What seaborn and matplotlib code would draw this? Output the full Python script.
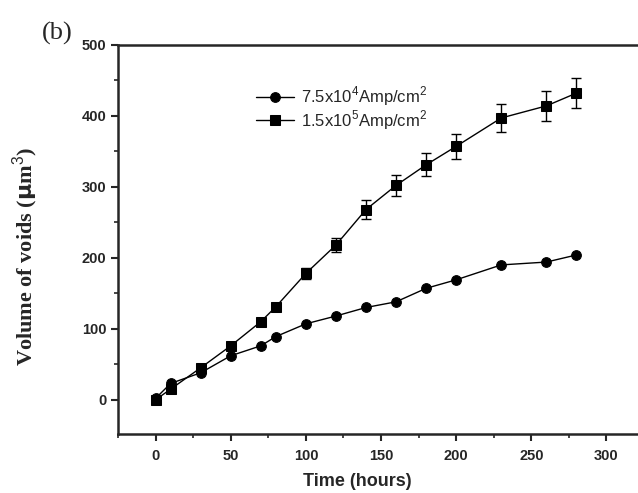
import numpy as np
import pandas as pd
import seaborn as sns
import matplotlib.pyplot as plt
from matplotlib.ticker import AutoMinorLocator, MultipleLocator

# data
time_low = [0, 10, 30, 50, 70, 80, 100, 120, 140, 160, 180, 200, 230, 260, 280]
vol_low = [2, 23, 38, 62, 76, 89, 107, 118, 130, 138, 157, 169, 190, 194, 204]

time_high = [0, 10, 30, 50, 70, 80, 100, 120, 140, 160, 180, 200, 230, 260, 280]
vol_high = [0, 15, 45, 76, 110, 131, 178, 218, 268, 302, 331, 357, 397, 414, 432]
err_high = [2, 2, 3, 4, 4, 5, 8, 10, 13, 15, 16, 18, 20, 21, 21]

label_low = r'7.5x10$^4$Amp/cm$^2$'
label_high = r'1.5x10$^5$Amp/cm$^2$'

df = pd.concat([
    pd.DataFrame({'time': time_low, 'vol': vol_low, 'series': label_low}),
    pd.DataFrame({'time': time_high, 'vol': vol_high, 'series': label_high}),
])

sns.set_style("ticks")
plt.rcParams['font.family'] = ['Liberation Sans', 'DejaVu Sans']
plt.rcParams['mathtext.fontset'] = 'custom'
plt.rcParams['mathtext.rm'] = 'Liberation Sans'

fig = plt.figure(figsize=(6.38, 4.93), dpi=100)
ax = fig.add_axes([0.185, 0.12, 0.815, 0.789])

sns.lineplot(data=df, x='time', y='vol', hue='series', style='series',
             markers={label_low: 'o', label_high: 's'}, dashes=False,
             palette={label_low: 'black', label_high: 'black'},
             markersize=7, linewidth=1, markeredgecolor='black', ax=ax)
ax.errorbar(time_high, vol_high, yerr=err_high, fmt='none', ecolor='black',
            elinewidth=1, capsize=3.5, capthick=1)

ax.set_xlim(-25, 321)
ax.set_ylim(-48, 500)
ax.xaxis.set_major_locator(MultipleLocator(50))
ax.yaxis.set_major_locator(MultipleLocator(100))
ax.xaxis.set_minor_locator(AutoMinorLocator(2))
ax.yaxis.set_minor_locator(AutoMinorLocator(2))
ax.tick_params(which='major', direction='out', length=5, width=1.5, labelsize=10.5)
ax.tick_params(axis='x', which='major', pad=6)
ax.tick_params(which='minor', direction='out', length=3, width=1.2)
for lbl in ax.get_xticklabels() + ax.get_yticklabels():
    lbl.set_fontweight('bold')

for side in ['left', 'bottom', 'top']:
    ax.spines[side].set_linewidth(1.8)
ax.spines['right'].set_visible(False)

ax.set_xlabel('Time (hours)', fontsize=13, fontweight='bold')
ax.xaxis.set_label_coords(0.46, -0.1)
ax.set_ylabel(r'Volume of voids ($\mathbf{\mu}$m$^3$)', fontsize=16,
              fontweight='bold', family='Liberation Serif')
ax.yaxis.set_label_coords(-0.15, 0.455)

leg = ax.legend(loc='center left', bbox_to_anchor=(0.2365, 0.837), frameon=False,
                fontsize=12, handlelength=2.3, handletextpad=0.4,
                labelspacing=0.0)

fig.text(0.065, 0.92, '(b)', fontsize=19, family='Liberation Serif')

fig.savefig('out.png', dpi=100)
